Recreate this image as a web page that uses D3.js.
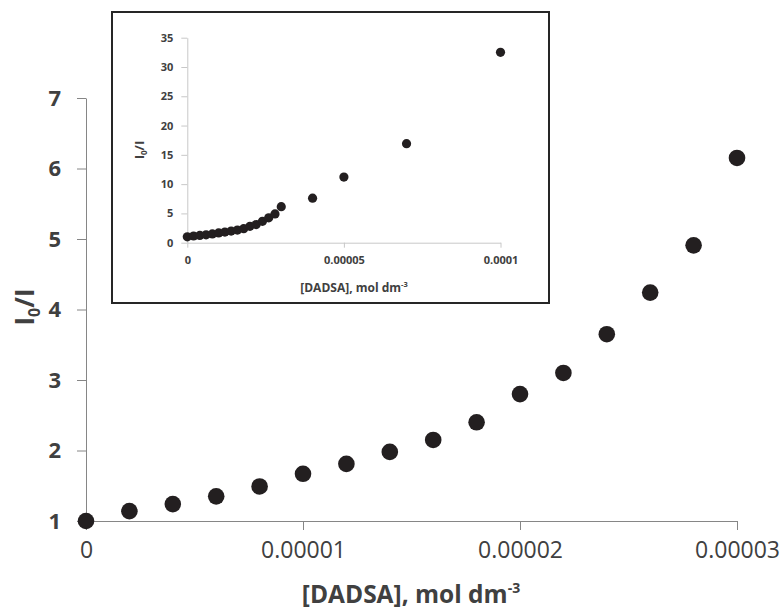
<!DOCTYPE html>
<html><head><meta charset="utf-8">
<script src="https://cdn.jsdelivr.net/npm/d3@7"></script>
<style>body{margin:0;background:#fff}svg{display:block}</style>
</head><body><svg id="c" width="784" height="612"></svg>
<script>
// Main series
const mainX = [0,0.000002,0.000004,0.000006,0.000008,0.00001,0.000012,0.000014,0.000016,0.000018,0.00002,0.000022,0.000024,0.000026,0.000028,0.00003];
const mainY = [1.00,1.14,1.24,1.35,1.49,1.67,1.81,1.98,2.15,2.40,2.80,3.10,3.65,4.24,4.91,6.15];
// Inset extra points
const extraX = [0.00004,0.00005,0.00007,0.0001];
const extraY = [7.6,11.2,16.9,32.5];
const mainXTicks = [0,0.00001,0.00002,0.00003];
const mainYTicks = [1,2,3,4,5,6,7];
const insetXTicks = [0,0.00005,0.0001];
const insetYTicks = [0,5,10,15,20,25,30,35];

const svg = d3.select('#c');
const font = "'Open Sans', sans-serif";
const ink = '#404040', axisCol = '#868686', dot = '#231f20';
const fmt = d => Number(d).toFixed(5).replace(/0+$/,'').replace(/\.$/,'');

const x = d3.scaleLinear().domain([0,0.00003]).range([86,737]);
const y = d3.scaleLinear().domain([1,7]).range([521,98]);

const gx = svg.append('g').attr('transform','translate(0,521)')
  .call(d3.axisBottom(x).tickValues(mainXTicks).tickFormat(fmt).tickSizeOuter(0).tickSizeInner(9).tickPadding(12));
gx.selectAll('text').attr('font-size',23).attr('font-family',font).attr('fill',ink);
const gy = svg.append('g').attr('transform','translate(86,0)')
  .call(d3.axisLeft(y).tickValues(mainYTicks).tickFormat(d3.format('d')).tickSizeOuter(0).tickSizeInner(9).tickPadding(16));
gy.selectAll('text').attr('font-size',22).attr('font-weight','bold').attr('font-family',font).attr('fill',ink);
[gx,gy].forEach(g=>{g.select('.domain').attr('stroke',axisCol);g.selectAll('.tick line').attr('stroke',axisCol);});

svg.append('g').selectAll('circle').data(mainX).join('circle')
  .attr('cx',(d)=>x(d)).attr('cy',(d,i)=>y(mainY[i])).attr('r',8.3).attr('fill',dot);

// main titles
const xt = svg.append('text').attr('x',411).attr('y',603).attr('text-anchor','middle')
  .attr('font-family',font).attr('font-weight','bold').attr('font-size',24.5).attr('fill',ink);
xt.append('tspan').text('[DADSA], mol dm');
xt.append('tspan').attr('font-size',14).attr('dy',-10).text('-3');
const yt = svg.append('text').attr('transform','translate(34,307) rotate(-90)').attr('text-anchor','middle')
  .attr('font-family',font).attr('font-weight','bold').attr('font-size',26).attr('fill',ink);
yt.append('tspan').text('I');
yt.append('tspan').attr('font-size',16).attr('dy',6).text('0');
yt.append('tspan').attr('dy',-6).text('/I');

// inset
svg.append('rect').attr('x',112).attr('y',12).attr('width',437).attr('height',291)
  .attr('fill','#fff').attr('stroke','#262626').attr('stroke-width',2);
const ix = d3.scaleLinear().domain([0,0.0001]).range([187.3,500.5]);
const iy = d3.scaleLinear().domain([0,35]).range([242.7,37.7]);
const inCol = '#c8c8c8';
const igx = svg.append('g').attr('transform','translate(0,242.7)')
  .call(d3.axisBottom(ix).tickValues(insetXTicks).tickFormat(fmt).tickSizeOuter(0).tickSizeInner(5).tickPadding(9));
igx.selectAll('text').attr('font-size',11).attr('font-weight','bold').attr('font-family',font).attr('fill',ink);
const igy = svg.append('g').attr('transform','translate(187.3,0)')
  .call(d3.axisLeft(iy).tickValues(insetYTicks).tickFormat(d3.format('d')).tickSizeOuter(0).tickSizeInner(6).tickPadding(8));
igy.selectAll('text').attr('font-size',11).attr('font-weight','bold').attr('font-family',font).attr('fill',ink);
[igx,igy].forEach(g=>{g.select('.domain').attr('stroke',inCol);g.selectAll('.tick line').attr('stroke',inCol);});

const allX = mainX.concat(extraX), allY = mainY.concat(extraY);
svg.append('g').selectAll('circle').data(allX).join('circle')
  .attr('cx',d=>ix(d)).attr('cy',(d,i)=>iy(allY[i])).attr('r',4.6).attr('fill',dot);

const ixt = svg.append('text').attr('x',354).attr('y',292).attr('text-anchor','middle')
  .attr('font-family',font).attr('font-weight','bold').attr('font-size',12).attr('fill',ink);
ixt.append('tspan').text('[DADSA], mol dm');
ixt.append('tspan').attr('font-size',7.5).attr('dy',-5).text('-3');
const iyt = svg.append('text').attr('transform','translate(144,150) rotate(-90)').attr('text-anchor','middle')
  .attr('font-family',font).attr('font-weight','bold').attr('font-size',13).attr('fill',ink);
iyt.append('tspan').text('I');
iyt.append('tspan').attr('font-size',8).attr('dy',3).text('0');
iyt.append('tspan').attr('dy',-3).text('/I');
</script></body></html>
